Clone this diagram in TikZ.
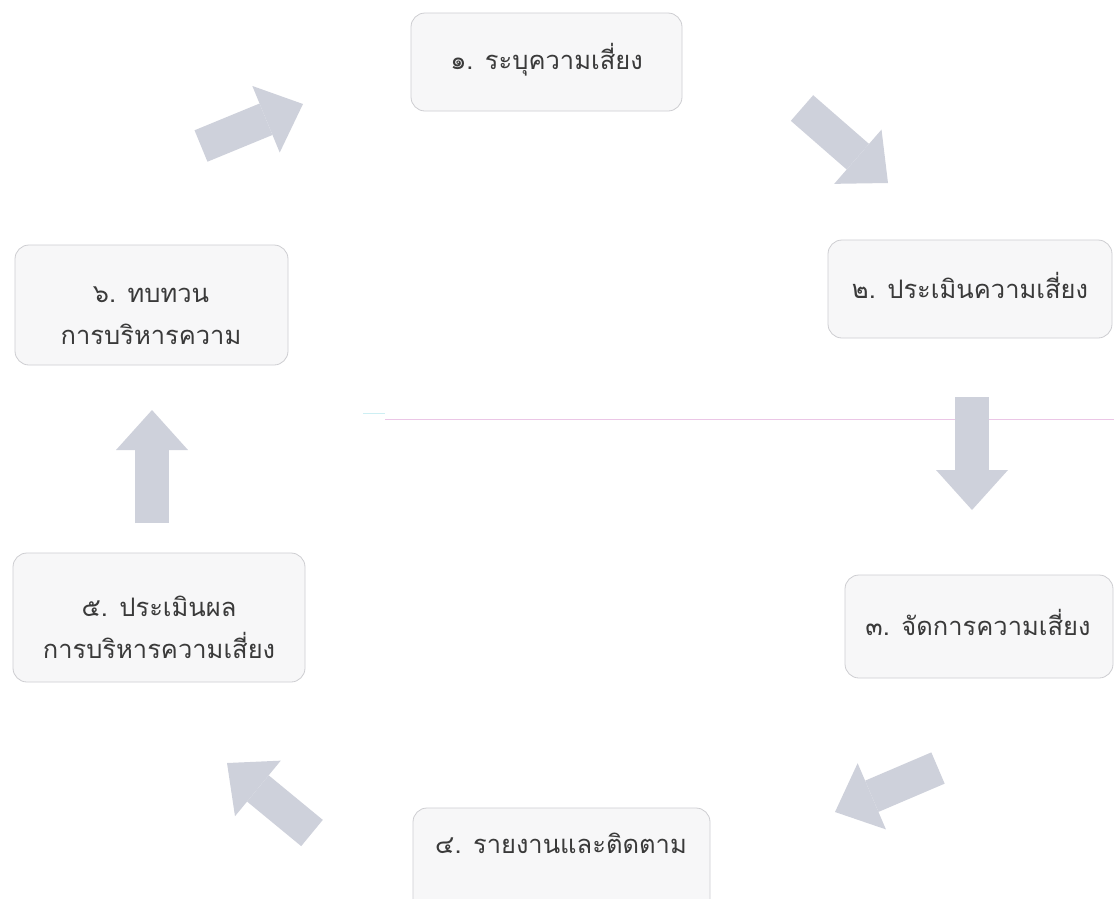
\documentclass[tikz,border=0pt]{standalone}
\usepackage{fontspec}
\newfontfamily\thaifont[Script=Thai]{Loma}
\usetikzlibrary{arrows.meta}
\definecolor{boxfill}{HTML}{F7F7F8}
\definecolor{boxline}{HTML}{CDCDD1}
\definecolor{arrowcol}{HTML}{CED1DB}
\definecolor{txtcol}{HTML}{3A3A3A}
\definecolor{scanpink}{HTML}{EBC6E6}
\definecolor{scancyan}{HTML}{CDEFF3}
\tikzset{
  stepbox/.style={draw=boxline, fill=boxfill, rounded corners=14pt, line width=0.8pt},
  steptext/.style={text=txtcol, font=\thaifont\fontsize{25.5}{42}\selectfont, align=center},
  blockarrow/.style={draw=arrowcol, line width=34pt, line cap=butt,
    -{Triangle[width=72pt,length=40pt,line width=0pt]}},
}
\begin{document}
\begin{tikzpicture}[x=1pt,y=-1pt]
\useasboundingbox (0,0) rectangle (1114,898);
\begin{scope}
\clip (0,0) rectangle (1114,898);
% faint scan line
\draw[color=scancyan, line width=0.8pt] (363,413) -- (385,413);
\draw[color=scanpink, line width=1pt] (385,419) -- (1114,419);
% boxes
\draw[stepbox] (411,13) rectangle (682,111);
\node[steptext] (s1) at (546.5,60) {๑. ระบุความเสี่ยง};
\draw[stepbox] (828,240) rectangle (1112,338);
\node[steptext] (s2) at (970,285) {๒. ประเมินความเสี่ยง};
\draw[stepbox] (845,575) rectangle (1113,678);
\node[steptext] (s3) at (978,622) {๓. จัดการความเสี่ยง};
\draw[stepbox] (413,808) rectangle (710,920);
\node[steptext] (s4) at (561,843) {๔. รายงานและติดตาม};
\draw[stepbox] (13,553) rectangle (305,682);
\node[steptext] (s5) at (159,627) {๕. ประเมินผล\\การบริหารความเสี่ยง};
\draw[stepbox] (15,245) rectangle (288,365);
\node[steptext] (s6) at (151,316) {๖. ทบทวน\\การบริหารความ};
% arrow ends
\coordinate (a1) at (201,146); \coordinate (b1) at (303,104);
\coordinate (a2) at (802,108); \coordinate (b2) at (888,183);
\coordinate (a3) at (972,397); \coordinate (b3) at (972,510);
\coordinate (a4) at (938,768); \coordinate (b4) at (835,812);
\coordinate (a5) at (312,833); \coordinate (b5) at (227,763);
\coordinate (a6) at (152,523); \coordinate (b6) at (152,410);
\foreach \i in {1,...,6} {\draw[blockarrow] (a\i) -- (b\i);}
\end{scope}
\end{tikzpicture}
\end{document}
